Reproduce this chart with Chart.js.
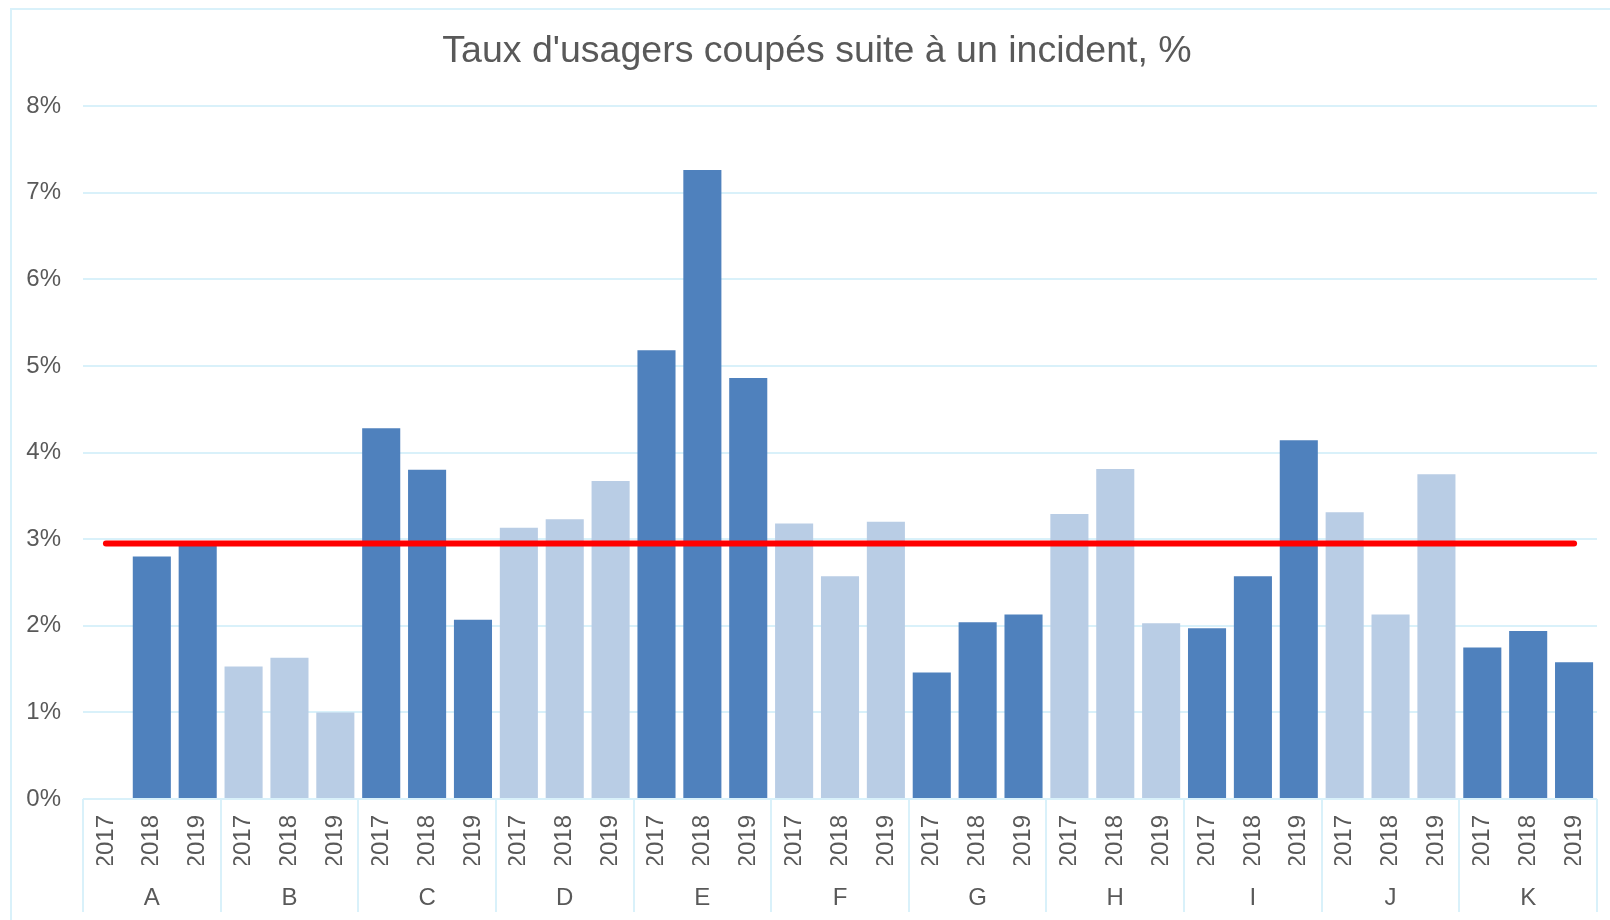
<!DOCTYPE html>
<html>
<head>
<meta charset="utf-8">
<script src="https://cdn.jsdelivr.net/npm/chart.js@4.4.1/dist/chart.umd.min.js"></script>
<style>
    html, body { margin: 0; padding: 0; background: #fff; overflow: hidden; }
    #frame { position: absolute; left: 10px; top: 8px; width: 1700px; height: 1000px; border: 2px solid #d9f1fa; }
    #wrap { position: absolute; left: 0; top: 0; width: 1610px; height: 920px; }
</style>
</head>
<body>
<div id="frame"></div>
<div id="wrap"><canvas id="chart-area"></canvas></div>
<script>
var groups = ['A', 'B', 'C', 'D', 'E', 'F', 'G', 'H', 'I', 'J', 'K'];
var years = ['2017', '2018', '2019'];
// % of users cut off, per group and year
var rate2017 = [null, 1.53, 4.28, 3.13, 5.18, 3.18, 1.46, 3.29, 1.97, 3.31, 1.75];
var rate2018 = [2.80, 1.63, 3.80, 3.23, 7.26, 2.57, 2.04, 3.81, 2.57, 2.13, 1.94];
var rate2019 = [2.92, 1.00, 2.07, 3.67, 4.86, 3.20, 2.13, 2.03, 4.14, 3.75, 1.58];
var averageRate = 2.95;
var yTicks = [0, 1, 2, 3, 4, 5, 6, 7, 8];

var darkBlue = '#4f81bd';
var lightBlue = '#b9cde5';
var gridColor = '#d9f1fa';
var textColor = '#595959';

// Flatten into one category per (group, year)
var labels = [];
var values = [];
var colors = [];
for (var g = 0; g < groups.length; g++) {
    var row = [rate2017[g], rate2018[g], rate2019[g]];
    for (var y = 0; y < years.length; y++) {
        labels.push(years[y]);
        values.push(row[y]);
        colors.push(g % 2 === 0 ? darkBlue : lightBlue);
    }
}
var averageLine = labels.map(function () { return averageRate; });

// Vertical separators between groups in the axis area
var groupSeparators = {
    id: 'groupSeparators',
    afterDraw: function (chart) {
        var xs = chart.scales.x;
        var x2 = chart.scales.x2;
        var step = xs.width / labels.length;
        var ctx = chart.ctx;
        ctx.save();
        ctx.strokeStyle = gridColor;
        ctx.lineWidth = 2;
        for (var k = 0; k <= groups.length; k++) {
            var px = Math.round(xs.left + step * k * years.length);
            ctx.beginPath();
            ctx.moveTo(px, xs.top);
            ctx.lineTo(px, x2.bottom);
            ctx.stroke();
        }
        ctx.restore();
    }
};

var config = {
    data: {
        labels: labels,
        datasets: [{
            type: 'line',
            data: averageLine,
            borderColor: '#ff0000',
            borderWidth: 6,
            borderCapStyle: 'round',
            pointRadius: 0,
            order: 0
        }, {
            type: 'bar',
            data: values,
            backgroundColor: colors,
            barPercentage: 0.83,
            categoryPercentage: 1,
            order: 1
        }]
    },
    options: {
        responsive: true,
        maintainAspectRatio: false,
        animation: false,
        layout: { padding: { left: 26, right: 2, top: 0, bottom: 8 } },
        plugins: {
            legend: { display: false },
            tooltip: { enabled: false },
            title: {
                display: true,
                text: "Taux d'usagers coupés suite à un incident, %",
                color: textColor,
                font: { family: 'Liberation Sans', size: 37.5, weight: 'normal' },
                padding: { top: 29, bottom: 32 }
            }
        },
        scales: {
            x: {
                type: 'category',
                position: 'bottom',
                grid: { display: false, drawTicks: false },
                border: { display: false },
                afterFit: function (scale) { scale.height = 66; scale.paddingLeft = 0; scale.paddingRight = 13; },
                ticks: {
                    color: textColor,
                    font: { family: 'Liberation Sans', size: 24 },
                    minRotation: 90,
                    maxRotation: 90,
                    autoSkip: false,
                    padding: 16
                }
            },
            x2: {
                type: 'category',
                position: 'bottom',
                labels: groups,
                offset: true,
                grid: { display: false, drawTicks: false },
                border: { display: false },
                afterFit: function (scale) { scale.height = 47; scale.paddingLeft = 0; scale.paddingRight = 0; },
                ticks: {
                    color: textColor,
                    font: { family: 'Liberation Sans', size: 24 },
                    maxRotation: 0,
                    autoSkip: false,
                    padding: 19
                }
            },
            y: {
                min: 0,
                max: 8,
                afterBuildTicks: function (scale) {
                    scale.ticks = yTicks.map(function (v) { return { value: v }; });
                },
                afterFit: function (scale) { scale.width = 57; },
                grid: { color: gridColor, lineWidth: 2, drawTicks: false },
                border: { display: false },
                ticks: {
                    color: textColor,
                    font: { family: 'Liberation Sans', size: 24 },
                    padding: 22,
                    callback: function (v) { return v + '%'; }
                }
            }
        }
    },
    plugins: [groupSeparators]
};

var ctx = document.getElementById('chart-area').getContext('2d');
window.myBar = new Chart(ctx, config);
</script>
</body>
</html>
